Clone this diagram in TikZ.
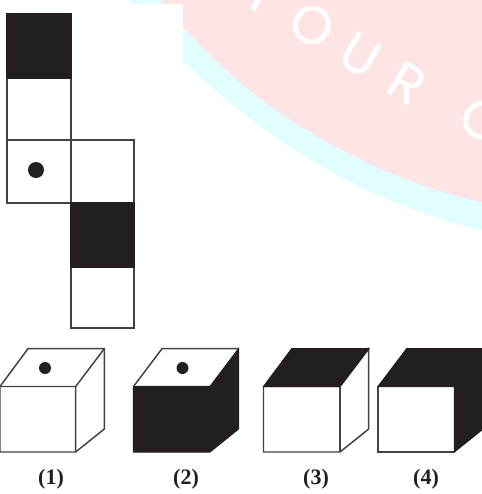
\documentclass[tikz,border=0pt]{standalone}
\usepackage{fontspec}
\setmainfont{Liberation Serif}
\newfontfamily\wmfont[FakeBold=0.4]{Poppins}
\definecolor{ink}{HTML}{231F20}
\definecolor{wmpink}{HTML}{FDE4E5}
\definecolor{wmcyan}{HTML}{E2FDFD}
\tikzset{
  edge/.style={draw=ink!85,line width=1.1pt,line join=miter},
  solid/.style={fill=ink,draw=ink,line width=.8pt,line join=miter},
  pale/.style={fill=white,edge},
  dot/.style={fill=ink,draw=none},
  wm/.style={text=white,font=\wmfont\fontsize{40}{40}\selectfont,rotate=-31,inner sep=0pt},
  lab/.style={font=\bfseries\fontsize{16.5}{16.5}\selectfont,text=ink,inner sep=0pt}
}
\begin{document}
\begin{tikzpicture}[x=.75pt,y=-.75pt]
\useasboundingbox (0,0) rectangle (482,494);
\begin{scope}
\clip (0,0) rectangle (482,494);
\fill[white] (0,0) rectangle (482,494);
% watermark
\fill[wmcyan] (125,-5) .. controls (215,110) and (345,200) .. (490,232) -- (490,-5) -- cycle;
\fill[wmpink] (158,-5) .. controls (230,95) and (355,175) .. (490,204) -- (490,-5) -- cycle;
\node[wm] (w1) at (312,25) {O};
\node[wm] (w2) at (360,55) {U};
\node[wm] (w3) at (407,83) {R};
\node[wm] (w4) at (482,120) {C};
\node[wm] (w0) at (262,-6) {Y};
\fill[white] (0,4) rectangle (183,70);
% net
\path[pale] (7,78) rectangle (71,140);
\path[pale] (7,140) rectangle (71,203);
\path[pale] (71,140) rectangle (134,203);
\path[pale] (71,267) rectangle (134,328);
\path[solid] (7,14) rectangle (71.5,78);
\path[solid] (71,203) rectangle (134,267);
\fill[dot] (36,170) circle (8);
% cube 1
\path[pale] (0,386.5) -- (28,348.7) -- (104.3,348.7) -- (104.3,429) -- (75.7,452) -- (0,452) -- cycle;
\draw[edge] (0,386.5) -- (75.7,386.5) -- (104.3,348.7) (75.7,386.5) -- (75.7,452);
\fill[dot] (45,368) circle (6);
% cube 2
\path[solid] (133.5,386.5) -- (210,386.5) -- (238.5,348.7) -- (238.5,429) -- (210,452) -- (133.5,452) -- cycle;
\draw[edge] (133.5,386.5) -- (162,348.7) -- (238.5,348.7);
\fill[dot] (182.5,368) circle (6);
% cube 3
\path[pale] (263.5,386.5) -- (340,386.5) -- (368.7,348.7) -- (368.7,429) -- (340,452) -- (263.5,452) -- cycle;
\draw[edge] (340,386.5) -- (340,452);
\path[solid] (263.5,386.5) -- (291.7,348.7) -- (368.7,348.7) -- (340,386.5) -- cycle;
% cube 4
\path[pale] (378,386.5) rectangle (454.3,452);
\path[solid] (378,386.5) -- (406.7,348.7) -- (483,348.7) -- (483,429) -- (454.3,452) -- (454.3,386.5) -- cycle;
\end{scope}
\node[lab] (l1) at (51,479) {(1)};
\node[lab] (l2) at (186,479) {(2)};
\node[lab] (l3) at (316,479) {(3)};
\node[lab] (l4) at (426,479) {(4)};
\end{tikzpicture}
\end{document}
